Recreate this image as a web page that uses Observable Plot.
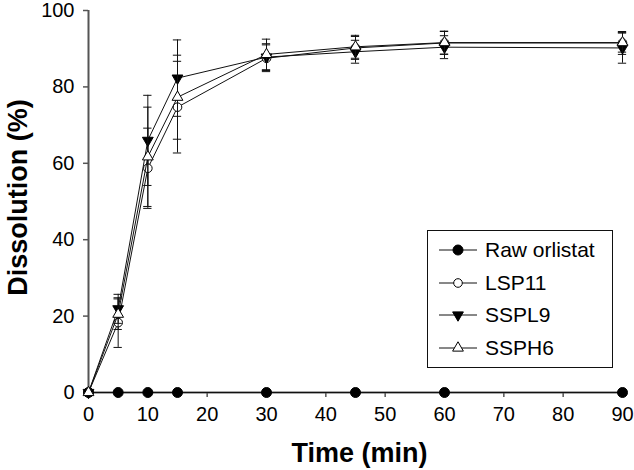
<!DOCTYPE html>
<html><head><meta charset="utf-8">
<script src="https://cdn.jsdelivr.net/npm/d3@7"></script>
<script src="https://cdn.jsdelivr.net/npm/@observablehq/plot@0.6"></script>
<style>
body{margin:0;background:#fff;}
#chart{position:relative;width:634px;height:470px;}
#chart svg{font-family:"Liberation Sans",Arial,sans-serif;}
#chart g[aria-label="x-axis tick"] path,#chart g[aria-label="y-axis tick"] path{stroke:#555;stroke-width:1.5;}
</style>
</head><body><div id="chart"></div>
<script>
const times = [0, 5, 10, 15, 30, 45, 60, 90];
const seriesNames = ["Raw orlistat", "LSP11", "SSPL9", "SSPH6"];
const rawOrlistat = [0, 0, 0, 0, 0, 0, 0, 0];
const rawOrlistatErr = [0, 0, 0, 0, 0, 0, 0, 0];
const lsp11 = [0, 18.3, 58.7, 74.7, 87.5, 90.2, 91.5, 91.5];
const lsp11Err = [0, 6.5, 10.5, 12, 3.5, 3, 3, 3];
const sspl9 = [0, 21.9, 66, 82.3, 87.8, 89.2, 90.4, 90.2];
const sspl9Err = [0, 3.8, 11.8, 10, 3.5, 3, 3, 4];
const ssph6 = [0, 20.5, 61.7, 77.3, 88.5, 90.5, 91.6, 91.6];
const ssph6Err = [0, 4, 13, 11, 4, 3, 3, 2.5];
const xTicks = [0, 10, 20, 30, 40, 50, 60, 70, 80, 90];
const yTicks = [0, 20, 40, 60, 80, 100];

const seriesValues = [rawOrlistat, lsp11, sspl9, ssph6];
const seriesErrs = [rawOrlistatErr, lsp11Err, sspl9Err, ssph6Err];
const markerStyles = [
  {symbol: "circle", fill: "#000", stroke: "#000", r: 5, rotate: 0},
  {symbol: "circle", fill: "#fff", stroke: "#000", r: 4.3, rotate: 0},
  {symbol: "triangle", fill: "#000", stroke: "#000", r: 4, rotate: 180},
  {symbol: "triangle", fill: "#fff", stroke: "#000", r: 4, rotate: 0}
];

const rows = [];
seriesNames.forEach((name, i) => {
  times.forEach((t, j) => rows.push({series: name, idx: i, t, v: seriesValues[i][j], e: seriesErrs[i][j]}));
});
const capHalf = 0.7;

const marks = [
  Plot.ruleX([0], {stroke: "#555", strokeWidth: 2}),
  Plot.ruleY([0], {stroke: "#555", strokeWidth: 2})
];
seriesNames.forEach((name, i) => {
  const d = rows.filter(r => r.idx === i);
  const de = d.filter(r => r.e > 0);
  const st = markerStyles[i];
  marks.push(Plot.line(d, {x: "t", y: "v", stroke: "#111", strokeWidth: 1}));
  marks.push(Plot.ruleX(de, {x: "t", y1: r => r.v - r.e, y2: r => r.v + r.e, stroke: "#111", strokeWidth: 1}));
  marks.push(Plot.ruleY(de, {y: r => r.v + r.e, x1: r => r.t - capHalf, x2: r => r.t + capHalf, stroke: "#111", strokeWidth: 1}));
  marks.push(Plot.ruleY(de, {y: r => r.v - r.e, x1: r => r.t - capHalf, x2: r => r.t + capHalf, stroke: "#111", strokeWidth: 1}));
  marks.push(Plot.dot(d, {x: "t", y: "v", symbol: () => st.symbol, r: st.r, fill: st.fill, stroke: st.stroke, strokeWidth: 1, rotate: st.rotate}));
});
marks.push(Plot.text(["Time (min)"], {frameAnchor: "bottom", textAnchor: "middle", lineAnchor: "middle", dx: 4, dy: 61, text: d => d, fontSize: 27, fontWeight: "bold", fill: "#000"}));
marks.push(Plot.text(["Dissolution (%)"], {frameAnchor: "left", textAnchor: "middle", lineAnchor: "middle", dx: -70, dy: -4, rotate: -90, text: d => d, fontSize: 27, fontWeight: "bold", fill: "#000"}));

const chart = Plot.plot({
  width: 634, height: 470,
  marginLeft: 88, marginRight: 12, marginTop: 10, marginBottom: 78,
  style: {fontFamily: "Liberation Sans, Arial, sans-serif", fontSize: "20px", color: "#000", background: "#fff"},
  x: {domain: [0, 90], ticks: xTicks, tickSize: 5, tickPadding: 9, label: null, tickFormat: d => String(d)},
  y: {domain: [0, 100], ticks: yTicks, tickSize: 5, tickPadding: 9, label: null, tickFormat: d => String(d)},
  symbol: {type: "identity"},
  marks
});
document.getElementById("chart").appendChild(chart);

// legend
const svg = d3.select(chart);
const lg = svg.append("g").attr("class", "legend").attr("text-anchor", "start");
lg.append("rect").attr("x", 427.5).attr("y", 230.5).attr("width", 185).attr("height", 137)
  .attr("fill", "#fff").attr("stroke", "#111").attr("stroke-width", 1);
const rowY = [250, 283, 315, 348];
seriesNames.forEach((name, i) => {
  const st = markerStyles[i];
  const y = rowY[i];
  lg.append("line").attr("x1", 439).attr("x2", 477).attr("y1", y).attr("y2", y).attr("stroke", "#111").attr("stroke-width", 1);
  const sym = st.symbol === "circle" ? d3.symbolCircle : d3.symbolTriangle;
  lg.append("path").attr("d", d3.symbol(sym, Math.PI * st.r * st.r)())
    .attr("transform", `translate(458,${y}) rotate(${st.rotate})`)
    .attr("fill", st.fill).attr("stroke", st.stroke).attr("stroke-width", 1);
  lg.append("text").attr("x", 485).attr("y", y).attr("dy", "0.35em")
    .style("font-size", "21px").attr("text-anchor", "start")
    .attr("fill", "#000").text(name);
});
</script>
</body></html>
